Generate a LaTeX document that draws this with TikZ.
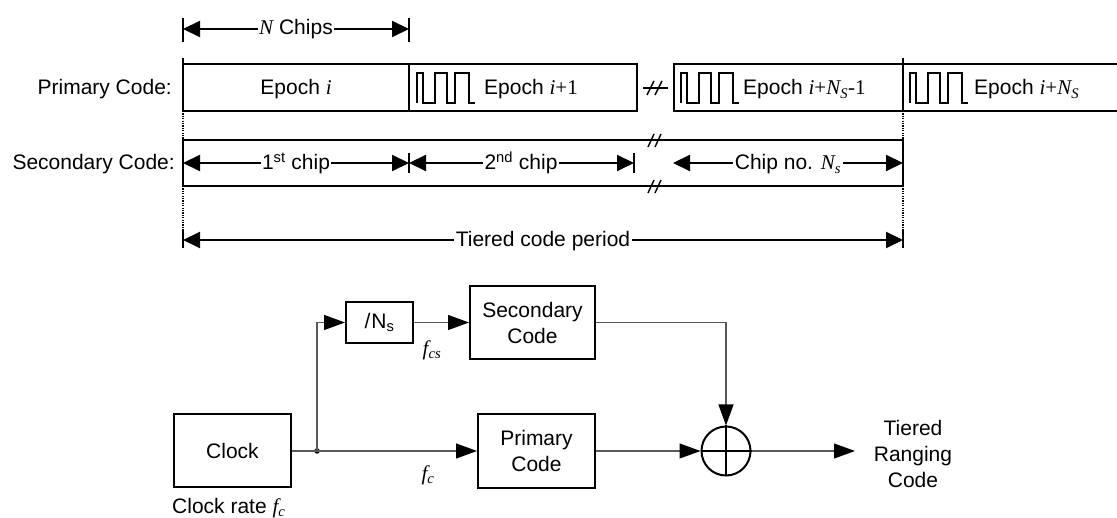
\documentclass[tikz,border=0pt]{standalone}
\usepackage{fontspec}
\setmainfont{Liberation Sans}
\newfontfamily\tms{Liberation Serif}
\usetikzlibrary{arrows.meta}
\newcommand{\vi}[1]{{\tms\itshape #1}}
\newcommand{\vr}[1]{{\tms #1}}
\begin{document}
\begin{tikzpicture}[x=1pt,y=-1pt,
  every node/.style={font=\fontsize{21}{26}\selectfont, inner sep=0pt},
  bar/.style={line width=2pt},
  dimline/.style={line width=2pt, {Triangle[length=17pt,width=16pt]}-{Triangle[length=17pt,width=16pt]}},
  dotline/.style={line width=1.6pt, dash pattern=on 1.2pt off 1.2pt},
  wavel/.style={line width=1.7pt, line join=miter},
  slash/.style={line width=1.4pt},
  lbl/.style={fill=white, inner xsep=1.5pt, anchor=base},
  blk/.style={draw, line width=2pt, align=center},
  conn/.style={line width=1.1pt, draw=black!65},
  tip/.style={-{Triangle[length=21pt,width=15pt,color=black]}}
]
\useasboundingbox (0,0) rectangle (1117,518);

% ---------- N chips ----------
\draw[bar] (183,18) -- (183,42);
\draw[bar] (409,18) -- (409,42);
\draw[dimline] (183,29) -- (409,29);
\node[lbl] (nchips) at (296,34.5) {\vi{N} Chips};

% ---------- primary code row ----------
\draw[bar] (183,64) rectangle (409,111);
\draw[bar] (409,64) rectangle (637,111);
\draw[bar] (674,64) rectangle (903,111);
\draw[bar] (1117,64) -- (903,64) -- (903,111) -- (1117,111);
\draw[bar] (183,58) -- (183,64);
\draw[bar] (903,58) -- (903,64);
\node[anchor=base east] (plab) at (172,95) {Primary Code:};
\node[anchor=base] (ep1) at (296,95) {Epoch \vi{i}};
\foreach \x in {417,681,910}{
  \draw[wavel] (\x,103) -- ++(0,-30) -- ++(6,0) -- ++(0,30) -- ++(12,0) -- ++(0,-30)
     -- ++(12,0) -- ++(0,30) -- ++(8,0) -- ++(0,-30) -- ++(14,0) -- ++(0,30) -- ++(6,0);
}
\node[anchor=base west] (ep2) at (484,95) {Epoch \vi{i}\vr{+1}};
\node[anchor=base west] (ep3) at (743,95) {Epoch \vi{i}\vr{+}\vi{N\textsubscript{S}}\vr{-1}};
\node[anchor=base west] (ep4) at (974,95) {Epoch \vi{i}\vr{+}\vi{N\textsubscript{S}}};
% break mark
\draw[slash] (643,88) -- (668,88);
\draw[slash] (647,95) -- (654,81);
\draw[slash] (655,95) -- (662,81);

% ---------- dotted guides ----------
\draw[dotline] (183,111) -- (183,140);
\draw[dotline] (903,111) -- (903,140);
\draw[dotline] (183,186) -- (183,230);
\draw[dotline] (903,186) -- (903,230);

% ---------- secondary code row ----------
\draw[bar] (183,140) rectangle (903,186);
\foreach \yy in {140,186}{
  \draw[slash] (648,\yy+7) -- (654,\yy-6);
  \draw[slash] (655,\yy+7) -- (661,\yy-6);
}
\node[anchor=base east] (slab) at (175,170) {Secondary Code:};
\draw[bar] (409,153) -- (409,173);
\draw[bar] (634,153) -- (634,173);
\draw[dimline] (183,163) -- (409,163);
\draw[dimline] (409,163) -- (634,163);
\draw[dimline] (673,163) -- (903,163);
\node[lbl] (c1) at (296,170) {1\textsuperscript{st} chip};
\node[lbl] (c2) at (521,170) {2\textsuperscript{nd} chip};
\node[lbl] (c3) at (788,170) {Chip no. \vi{N\textsubscript{s}}};

% ---------- tiered code period ----------
\draw[bar] (183,230) -- (183,248);
\draw[bar] (903,230) -- (903,248);
\draw[dimline] (183,240) -- (903,240);
\node[lbl] (tcp) at (543,247) {Tiered code period};

% ---------- block diagram ----------
\node[blk, minimum width=117pt, minimum height=73pt] (clk) at (232.5,451) {Clock};
\node[anchor=base west] (rate) at (172,513) {Clock rate \vi{f}\textsubscript{\vi{c}}};
\node[blk, minimum width=67pt, minimum height=41pt] (ns) at (379.5,322.5) {/\kern1pt N\textsubscript{s}};
\node[blk, minimum width=125pt, minimum height=73pt] (sec) at (532.5,322.5) {Secondary\\Code};
\node[blk, minimum width=117pt, minimum height=74pt] (prim) at (536.5,451) {Primary\\Code};
\node[draw, circle, line width=2pt, minimum size=49pt] (xor) at (726,451) {};
\draw[line width=2pt] (xor.north) -- (xor.south) (xor.west) -- (xor.east);
\node[circle, fill=black, minimum size=5.5pt] (j) at (317,451) {};
\coordinate (out) at (855,451);

\draw[conn] (clk.east) -- (j.center);
\draw[conn,tip] (j.center) -- (prim.west);
\draw[conn,tip] (j.center) |- (ns.west);
\draw[conn,tip] (ns.east) -- (sec.west);
\draw[conn,tip] (sec.east) -| (xor.north);
\draw[conn,tip] (prim.east) -- (xor.west);
\draw[conn,tip] (xor.east) -- (out);

\node (fcs) at (432,350) {\vi{f}\textsubscript{\vi{cs}}};
\node (fc) at (428,475) {\vi{f}\textsubscript{\vi{c}}};
\node[align=center] (res) at (913,454) {Tiered\\Ranging\\Code};
\end{tikzpicture}
\end{document}
